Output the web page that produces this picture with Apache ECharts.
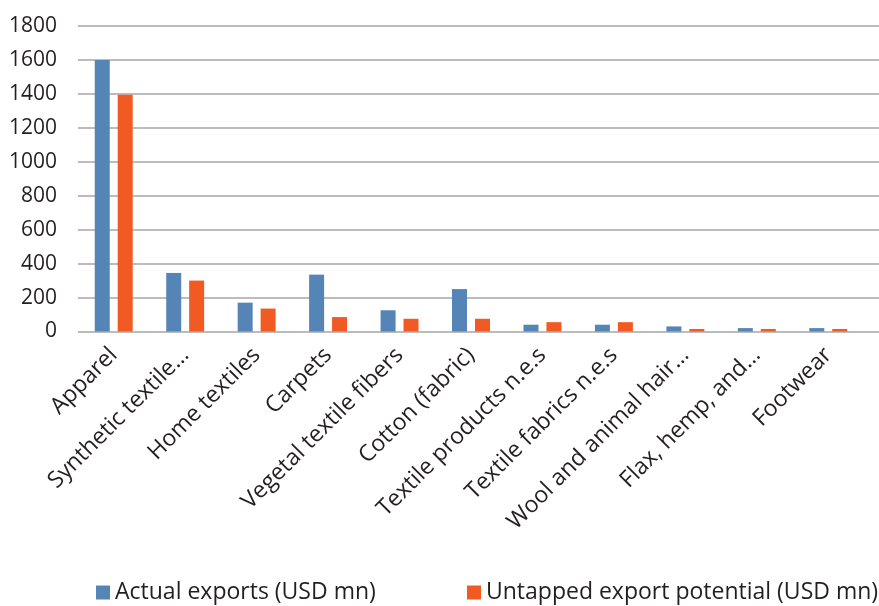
<!DOCTYPE html>
<html>
<head>
<meta charset="utf-8">
<script src="https://cdn.jsdelivr.net/npm/echarts@6/dist/echarts.min.js"></script>
<style>
html,body{margin:0;padding:0;background:#fff;}
#chart{width:879px;height:606px;}
</style>
</head>
<body>
<div id="chart"></div>
<script>
var categories = ['Apparel','Synthetic textile\u2026','Home textiles','Carpets','Vegetal textile fibers','Cotton (fabric)','Textile products n.e.s','Textile fabrics n.e.s','Wool and animal hair\u2026','Flax, hemp, and\u2026','Footwear'];
var actualExports = [1600, 345, 170, 335, 125, 250, 40, 40, 30, 20, 20];
var untappedPotential = [1395, 300, 135, 85, 75, 75, 55, 55, 15, 15, 15];
var seriesNames = ['Actual exports (USD mn)', 'Untapped export potential (USD mn)'];
var yTicks = {min: 0, max: 1800, interval: 200};

var FONT = 'Open Sans';
var TXT = '#231f20';
var chart = echarts.init(document.getElementById('chart'), null, {renderer: 'canvas'});
chart.setOption({
  animation: false,
  textStyle: {fontFamily: FONT},
  legend: [
    {data: [seriesNames[0]], left: 91, top: 576, itemWidth: 14, itemHeight: 14, icon: 'rect', itemGap: 0,
     textStyle: {fontFamily: FONT, fontSize: 23, color: TXT}},
    {data: [seriesNames[1]], left: 462, top: 576, itemWidth: 14, itemHeight: 14, icon: 'rect', itemGap: 0,
     textStyle: {fontFamily: FONT, fontSize: 23, color: TXT}}
  ],
  grid: [
    {left: 78, right: 15, top: 26, bottom: 274.5, containLabel: false},
    {left: 78, right: 0, top: 26, bottom: 274.5, containLabel: false}
  ],
  xAxis: [
    {type: 'category', gridIndex: 0, data: categories,
     axisLine: {show: false}, axisTick: {show: false},
     axisLabel: {rotate: 45, interval: 0, margin: 20, fontFamily: FONT, fontSize: 23, color: TXT}},
    {type: 'category', gridIndex: 1, data: categories, show: false}
  ],
  yAxis: [
    {type: 'value', gridIndex: 0, min: yTicks.min, max: yTicks.max, interval: yTicks.interval,
     axisLabel: {show: false}, splitLine: {show: false}, axisLine: {show: false}, axisTick: {show: false}},
    {type: 'value', gridIndex: 1, min: yTicks.min, max: yTicks.max, interval: yTicks.interval,
     axisLine: {show: false}, axisTick: {show: false},
     axisLabel: {margin: 21, fontFamily: FONT, fontSize: 21, color: TXT,
                 formatter: function (v) { return String(v); }},
     splitLine: {lineStyle: {color: '#a6a6a6', width: 1.5}}}
  ],
  series: [
    {name: seriesNames[0], type: 'bar', xAxisIndex: 0, yAxisIndex: 0, data: actualExports,
     barWidth: 15, barGap: '53%', itemStyle: {color: '#5584b7'}},
    {name: seriesNames[1], type: 'bar', xAxisIndex: 0, yAxisIndex: 0, data: untappedPotential,
     barWidth: 15, barGap: '53%', itemStyle: {color: '#f15a22'}}
  ]
});
</script>
</body>
</html>
